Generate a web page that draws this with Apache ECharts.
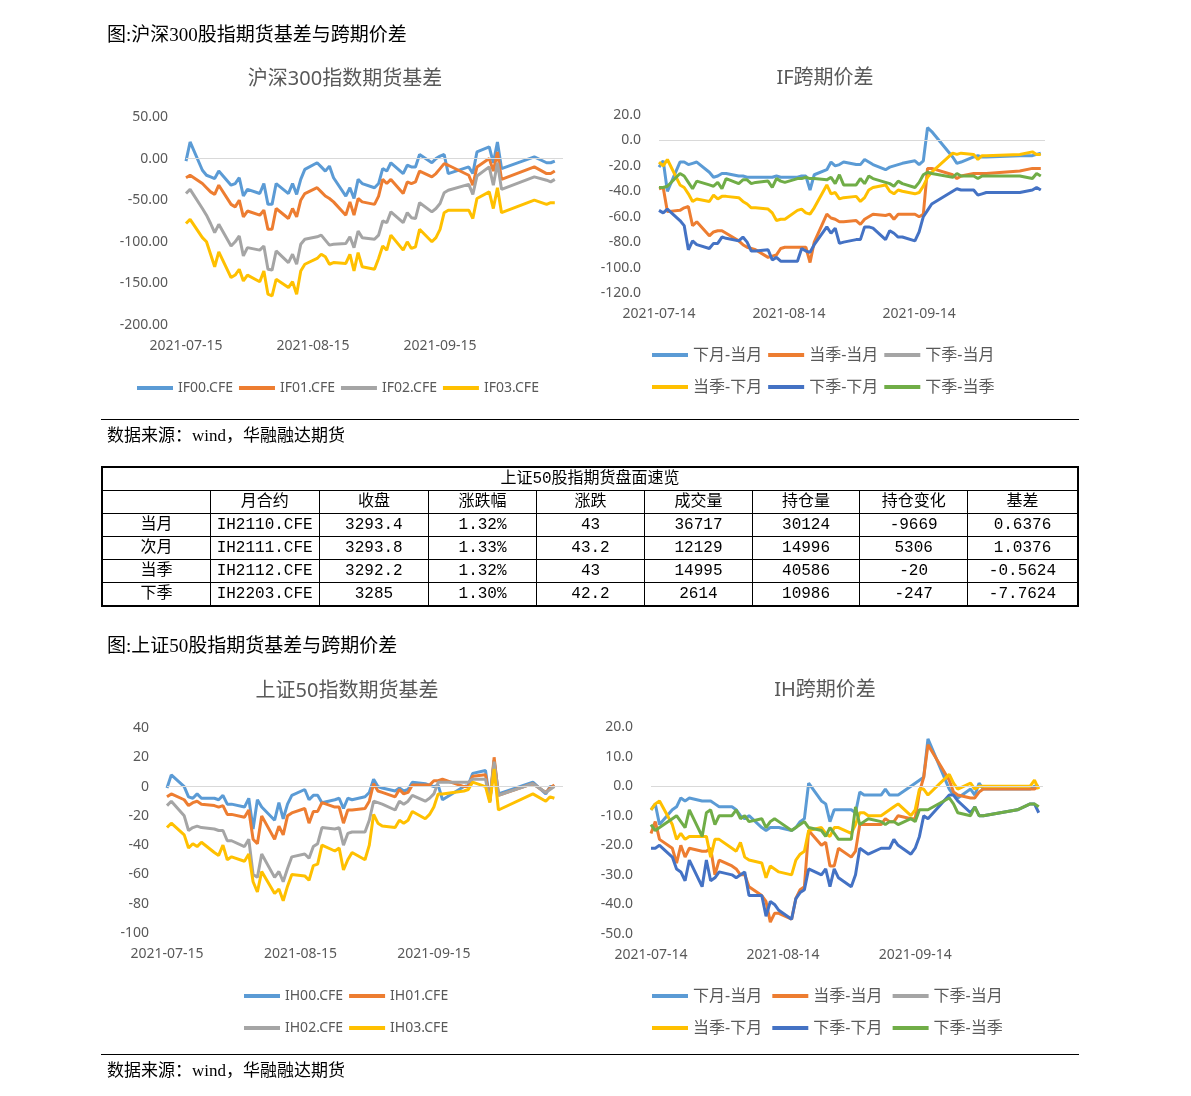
<!DOCTYPE html>
<html>
<head>
<meta charset="utf-8">
<script src="https://cdn.jsdelivr.net/npm/echarts@6/dist/echarts.min.js"></script>
<style>
  body { margin: 0; background: #fff; }
  #page { position: relative; width: 1191px; height: 1096px; font-family: "Liberation Serif", "Noto Sans CJK SC", serif; }
  #chart { position: absolute; left: 0; top: 0; width: 1191px; height: 1096px; }
  .txt { position: absolute; font-size: 19px; color: #000; white-space: nowrap; }
  .rule { position: absolute; left: 101px; width: 978px; height: 0; border-top: 1.5px solid #000; }
  table { position: absolute; left: 101px; top: 466px; width: 978px; border-collapse: collapse; font-size: 16px; z-index: 2;
          font-family: "Liberation Mono", "Noto Sans CJK SC", monospace; border: 2px solid #000; }
  td { border: 1.5px solid #000; text-align: center; height: 22px; padding: 0; line-height: 21px; }
</style>
</head>
<body>
<div id="page">
  <div id="chart"></div>
  <div class="txt" style="left:107px;top:19px">图:沪深300股指期货基差与跨期价差</div>
  <div class="rule" style="top:419px"></div>
  <div class="txt" style="left:107px;top:421px;font-size:17px">数据来源：wind，华融融达期货</div>
  <table id="tbl"></table>
  <div class="txt" style="left:107px;top:630px">图:上证50股指期货基差与跨期价差</div>
  <div class="rule" style="top:1054px"></div>
  <div class="txt" style="left:107px;top:1056px;font-size:17px">数据来源：wind，华融融达期货</div>
</div>
<script>
// trading days
const dates = ['2021-07-14','2021-07-15','2021-07-16','2021-07-19','2021-07-20','2021-07-21','2021-07-22','2021-07-23',
  '2021-07-26','2021-07-27','2021-07-28','2021-07-29','2021-07-30','2021-08-02','2021-08-03','2021-08-04','2021-08-05','2021-08-06',
  '2021-08-09','2021-08-10','2021-08-11','2021-08-12','2021-08-13','2021-08-16','2021-08-17','2021-08-18','2021-08-19','2021-08-20',
  '2021-08-23','2021-08-24','2021-08-25','2021-08-26','2021-08-27','2021-08-30','2021-08-31','2021-09-01','2021-09-02','2021-09-03',
  '2021-09-06','2021-09-07','2021-09-08','2021-09-09','2021-09-10','2021-09-13','2021-09-14','2021-09-15','2021-09-16','2021-09-17',
  '2021-09-22','2021-09-23','2021-09-24','2021-09-27','2021-09-28','2021-09-29','2021-09-30','2021-10-08','2021-10-11','2021-10-12','2021-10-13']

// IF basis
const IF00 = [null,-3,20,-14,-20,-22,-24,-15,-32,-30,-23,-45,-37,-42,-30,-55,-55,-30,-42,-30,-43,-25,-13,-5,-10,-15,-9,-23,-45,-35,-48,-25,-30,-35,-30,-12,-15,-5,-18,-8,-10,-10,5,-5,0,3,5,-18,-10,-18,8,14,-5,20,-12,2,-5,-5,-3]
const IF01 = [null,-23,-20,-30,-35,-40,-43,-32,-55,-58,-50,-70,-63,-68,-62,-85,-85,-60,-72,-60,-70,-50,-42,-35,-40,-45,-48,-52,-68,-52,-68,-48,-52,-55,-45,-25,-30,-25,-42,-28,-30,-28,-15,-22,-18,-12,-6,-8,-20,-32,-10,0,-15,8,-25,-10,-18,-18,-15]
const IF02 = [null,-42,-37,-60,-68,-78,-89,-79,-105,-100,-93,-117,-107,-110,-105,-133,-134,-111,-125,-115,-127,-103,-97,-94,-92,-98,-104,-103,-102,-94,-107,-87,-95,-97,-92,-75,-77,-64,-77,-65,-71,-72,-53,-64,-60,-54,-41,-38,-31,-43,-21,-10,-32,-5,-37,-22,-26,-28,-25]
const IF03 = [null,-78,-73,-95,-100,-115,-130,-112,-143,-140,-133,-147,-140,-148,-135,-163,-165,-145,-155,-148,-163,-135,-127,-120,-115,-118,-127,-125,-126,-115,-135,-113,-130,-133,-120,-105,-110,-92,-110,-100,-108,-106,-85,-100,-95,-85,-65,-62,-62,-72,-48,-40,-60,-35,-65,-50,-55,-53,-53]

// IF calendar spreads
const IF_s1 = [-21,-16,-40,-17,-17,-19,-18,-17,-25,-29,-28,-26,-26,-28,-28,-29,-29,-29,-29,-29,-28,-29,-29,-29,-28,-28,-39,-27,-23,-17,-20,-19,-17,-19,-19,-15,-17,-19,-23,-21,-20,-19,-18,-16,-19,-16,10,7,-13,-18,-17,-13,-12,-13,-13,-12,-12,-11,-10]
const IF_s2 = [-38,-37,-56,-55,-53,-52,-67,-64,-75,-72,-71,-71,-73,-79,-82,-84,-85,-86,-92,-91,-90,-85,-84,-84,-84,-84,-96,-80,-58,-61,-62,-64,-64,-63,-66,-62,-60,-58,-59,-58,-62,-58,-58,-58,-60,-58,-22,-22,-27,-30,-28,-26,-26,-26,-26,-24,-22,-22,-22]
const IF_s3 = []
const IF_s4 = [-17,-20,-15,-35,-37,-42,-48,-46,-48,-43,-46,-44,-44,-45,-48,-50,-53,-53,-54,-57,-63,-62,-62,-55,-54,-57,-58,-53,-35,-42,-41,-46,-45,-44,-48,-45,-39,-37,-35,-40,-42,-39,-40,-42,-41,-36,-29,-25,-10,-11,-10,-11,-15,-12,-12,-11,-9,-11,-11]
const IF_s5 = [-55,-57,-54,-63,-67,-86,-79,-82,-85,-81,-81,-76,-77,-79,-76,-80,-87,-87,-86,-94,-92,-95,-95,-95,-85,-87,-88,-82,-68,-73,-69,-81,-80,-78,-78,-68,-68,-69,-78,-71,-73,-76,-76,-79,-72,-60,-55,-50,-40,-38,-39,-39,-43,-42,-41,-41,-39,-37,-39]
const IF_s6 = [-37,-37,-36,-26,-28,-33,-38,-32,-35,-36,-33,-38,-30,-34,-31,-31,-34,-33,-32,-37,-30,-32,-33,-30,-30,-29,-30,-30,-31,-29,-34,-27,-35,-35,-30,-34,-28,-30,-33,-34,-36,-32,-34,-37,-33,-27,-25,-26,-29,-26,-28,-28,-30,-28,-28,-28,-30,-26,-28]

// IH basis
const IH00 = [null,-1,8,0,-7,-8,-5,-8,-8,-9,-6,-12,-12,-14,-8,-29,-9,-14,-23,-11,-22,-12,-6,-2,-9,-6,-6,-11,-9,-8,-15,-8,-9,-7,-4,5,0,-1,-3,-1,-3,-2,3,2,1,0,1,-9,0,1,9,11,-10,18,-5,3,-5,0,0]
const IH01 = [null,-7,-5,-9,-13,-11,-10,-12,-13,-14,-13,-19,-19,-21,-16,-36,-39,-20,-36,-27,-33,-20,-18,-15,-25,-17,-17,-11,-14,-14,-25,-16,-16,-15,-10,2,-3,-4,-7,-2,-5,-4,1,1,1,4,4,5,0,0,7,8,-10,20,-6,2,-4,-1,1]
const IH02 = [null,-13,-10,-20,-30,-28,-27,-28,-29,-30,-30,-37,-37,-41,-36,-60,-62,-46,-62,-58,-65,-56,-48,-46,-49,-41,-39,-28,-29,-28,-40,-32,-31,-31,-23,-10,-11,-12,-16,-10,-12,-10,-6,-10,-8,-5,3,3,3,3,5,5,-10,17,-6,2,-4,-2,0]
const IH03 = [null,-28,-25,-33,-42,-39,-41,-38,-45,-47,-40,-50,-48,-51,-46,-65,-72,-58,-73,-70,-78,-68,-60,-61,-64,-54,-53,-40,-44,-42,-57,-50,-45,-50,-40,-19,-25,-27,-28,-23,-25,-23,-17,-22,-19,-14,-5,-5,-3,-2,3,0,-11,12,-16,-5,-10,-7,-8]

// IH calendar spreads
const IH_s1 = [-8,-6,-13,-8,-7,-4,-5,-4,-5,-5,-5,-6,-7,-7,-8,-10,-11,-10,-14,-15,-14,-14,-14,-15,-14,-12,-11,1,-5,-6,-12,-8,-8,-8,-9,-2,-3,-3,-3,-1,-3,-3,-3,0,1,2,3,16,-1,-3,-4,-1,-3,1,-1,-1,-1,0,0]
const IH_s2 = [-16,-12,-18,-21,-26,-20,-24,-21,-22,-22,-21,-30,-25,-27,-28,-30,-30,-34,-37,-39,-46,-43,-43,-45,-38,-35,-34,-15,-20,-19,-27,-27,-21,-24,-22,-13,-13,-13,-13,-11,-12,-12,-10,-11,-11,-2,3,14,2,-2,-3,-4,-4,-2,-1,-1,-1,-1,0]
const IH_s3 = []
const IH_s4 = [-8,-6,-5,-13,-18,-16,-18,-17,-17,-17,-24,-18,-18,-21,-22,-19,-24,-25,-26,-31,-27,-28,-29,-30,-25,-23,-22,-15,-14,-16,-17,-14,-14,-16,-13,-9,-9,-10,-10,-9,-8,-7,-6,-10,-8,-1,-1,-3,4,1,-1,1,-1,0,0,0,0,2,-1]
const IH_s5 = [-21,-21,-20,-24,-28,-29,-32,-25,-34,-25,-32,-31,-29,-30,-31,-30,-29,-37,-37,-44,-39,-40,-42,-45,-38,-36,-35,-28,-30,-28,-34,-28,-31,-34,-30,-21,-22,-23,-21,-21,-21,-18,-20,-23,-21,-17,-10,-11,-3,-3,-5,-9,-7,-10,-10,-8,-6,-6,-9]
const IH_s6 = [-13,-15,-14,-11,-10,-12,-14,-8,-17,-9,-8,-13,-10,-10,-8,-11,-10,-12,-11,-14,-12,-11,-12,-15,-14,-13,-12,-14,-15,-17,-14,-16,-18,-18,-7,-13,-12,-11,-12,-13,-12,-12,-13,-11,-12,-8,-8,-8,-4,-6,-9,-10,-7,-10,-10,-8,-6,-6,-7]

const basisNamesIF = ['IF00.CFE', 'IF01.CFE', 'IF02.CFE', 'IF03.CFE']
const basisNamesIH = ['IH00.CFE', 'IH01.CFE', 'IH02.CFE', 'IH03.CFE']
const spreadNames = ['下月-当月', '当季-当月', '下季-当月', '当季-下月', '下季-下月', '下季-当季']

// table
const tblTitle = '上证50股指期货盘面速览'
const tblHeader = ['', '月合约', '收盘', '涨跌幅', '涨跌', '成交量', '持仓量', '持仓变化', '基差']
const tblRows = [
  ['当月', 'IH2110.CFE', '3293.4', '1.32%', '43', '36717', '30124', '-9669', '0.6376'],
  ['次月', 'IH2111.CFE', '3293.8', '1.33%', '43.2', '12129', '14996', '5306', '1.0376'],
  ['当季', 'IH2112.CFE', '3292.2', '1.32%', '43', '14995', '40586', '-20', '-0.5624'],
  ['下季', 'IH2203.CFE', '3285', '1.30%', '42.2', '2614', '10986', '-247', '-7.7624']
]
const colW = [109, 108, 110, 108, 109, 108, 108, 108, 110]

let html = `<tr><td colspan="9">${tblTitle}</td></tr>`
html += '<tr>' + tblHeader.map((h, i) => `<td style="width:${colW[i]}px">${h}</td>`).join('') + '</tr>'
tblRows.forEach(r => { html += '<tr>' + r.map(c => `<td>${c}</td>`).join('') + '</tr>' })
document.getElementById('tbl').innerHTML = html

const colors6 = ['#5B9BD5', '#ED7D31', '#A5A5A5', '#FFC000', '#4472C4', '#70AD47']
const base = Date.UTC(2021, 6, 15)
const offsetOf = d => Math.round((Date.UTC(+d.slice(0, 4), +d.slice(5, 7) - 1, +d.slice(8, 10)) - base) / 86400000)
const fmtDate = v => {
  const t = new Date(base + v * 86400000)
  const p = n => String(n).padStart(2, '0')
  return `${t.getUTCFullYear()}-${p(t.getUTCMonth() + 1)}-${p(t.getUTCDate())}`
}
const toPts = arr => dates.map((d, i) => [offsetOf(d), arr[i]]).filter(p => p[1] !== null && p[1] !== undefined)

const lbl = { color: '#595959', fontSize: 14, fontFamily: 'Noto Sans, Noto Sans CJK SC' }
const grids = [
  { left: 186, top: 117, width: 377, height: 208 },
  { left: 659, top: 115, width: 386, height: 178 },
  { left: 167, top: 728, width: 396, height: 205 },
  { left: 651, top: 727, width: 392, height: 207 }
]
const xMin = [0, -1, 0, -1]
const yCfg = [
  { min: -200, max: 50, interval: 50, dec: 2 },
  { min: -120, max: 20, interval: 20, dec: 1 },
  { min: -100, max: 40, interval: 20, dec: 0 },
  { min: -50, max: 20, interval: 10, dec: 1 }
]

const xAxis = grids.map((g, i) => ({
  type: 'value', gridIndex: i, min: xMin[i], max: xMin[i] + 92, interval: 31,
  axisLine: { show: false }, axisTick: { show: false }, splitLine: { show: false },
  axisLabel: { ...lbl, margin: 14, showMaxLabel: false, formatter: v => fmtDate(v) }
}))
const yAxis = yCfg.map((c, i) => ({
  type: 'value', gridIndex: i, min: c.min, max: c.max, interval: c.interval,
  axisLine: { show: false }, axisTick: { show: false }, splitLine: { show: false },
  axisLabel: { ...lbl, margin: 18, formatter: v => v.toFixed(c.dec) }
}))

const zeroLine = { silent: true, symbol: 'none', label: { show: false }, lineStyle: { color: '#d9d9d9', width: 1, type: 'solid' }, data: [{ yAxis: 0 }] }
const mk = (name, arr, gi, color, first) => ({
  name, type: 'line', xAxisIndex: gi, yAxisIndex: gi, data: toPts(arr), showSymbol: false,
  connectNulls: true, color, lineStyle: { width: 3, color }, z: 3, animation: false,
  markLine: first ? zeroLine : undefined
})
const basisColors = ['#5B9BD5', '#ED7D31', '#A5A5A5', '#FFC000']
const series = [
  ...[IF00, IF01, IF02, IF03].map((a, i) => mk(basisNamesIF[i], a, 0, basisColors[i], i === 0)),
  ...[IF_s1, IF_s2, IF_s3, IF_s4, IF_s5, IF_s6].map((a, i) => mk(spreadNames[i], a, 1, colors6[i], i === 0)),
  ...[IH00, IH01, IH02, IH03].map((a, i) => mk(basisNamesIH[i], a, 2, basisColors[i], i === 0)),
  ...[IH_s1, IH_s2, IH_s3, IH_s4, IH_s5, IH_s6].map((a, i) => mk(spreadNames[i] + ' ', a, 3, colors6[i], i === 0))
]

const lg = (data, left, top, fs) => ({
  data, left, top, icon: 'rect', itemWidth: 36, itemHeight: 4, itemGap: 6,
  textStyle: { ...lbl, fontSize: fs }, selectedMode: false
})
const ttl = (text, x, y) => ({
  text, left: x, top: y, textAlign: 'center',
  textStyle: { color: '#595959', fontSize: 20, fontWeight: 'normal', fontFamily: 'Noto Sans, Noto Sans CJK SC' }
})

const chart = echarts.init(document.getElementById('chart'), null, { renderer: 'canvas' })
chart.setOption({
  backgroundColor: '#fff',
  animation: false,
  title: [
    ttl('沪深300指数期货基差', 340, 64),
    ttl('IF跨期价差', 820, 63),
    ttl('上证50指数期货基差', 342, 676),
    ttl('IH跨期价差', 820, 675)
  ],
  legend: [
    lg(basisNamesIF, 132, 376, 14),
    lg(spreadNames.slice(0, 3), 647, 342, 16),
    lg(spreadNames.slice(3), 647, 374, 16),
    lg(basisNamesIH.slice(0, 2), 239, 984, 14),
    lg(basisNamesIH.slice(2), 239, 1016, 14),
    lg(spreadNames.slice(0, 3).map(s => s + ' '), 647, 983, 16),
    lg(spreadNames.slice(3).map(s => s + ' '), 647, 1015, 16)
  ],
  grid: grids,
  xAxis,
  yAxis,
  series
})
</script>
</body>
</html>
